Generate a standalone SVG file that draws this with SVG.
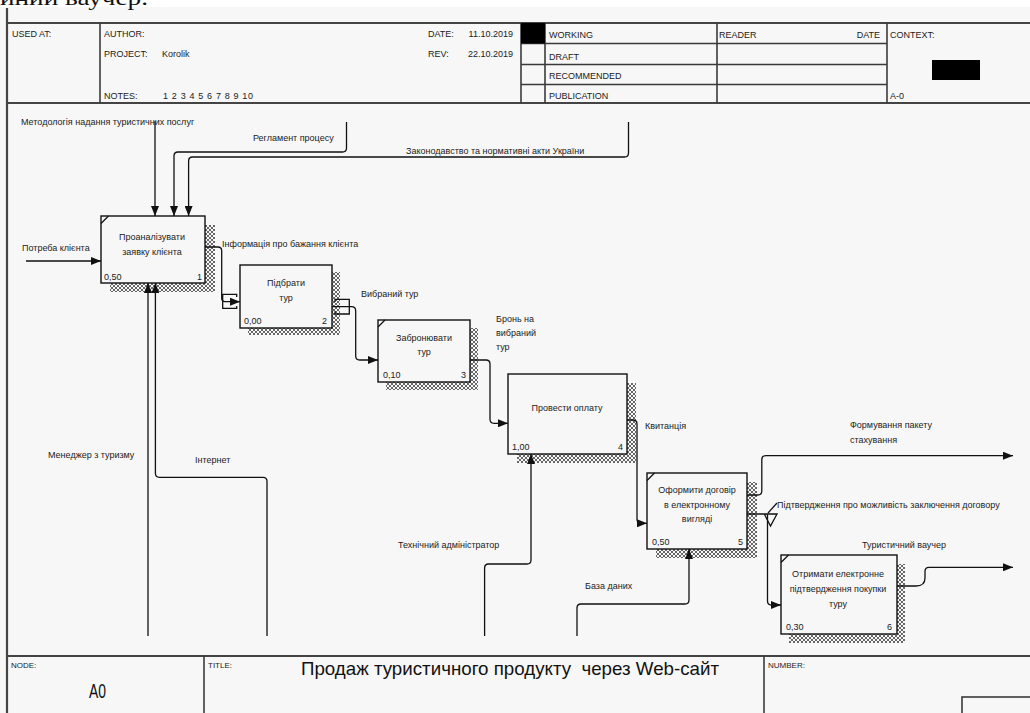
<svg xmlns="http://www.w3.org/2000/svg" width="1030" height="713" viewBox="0 0 1030 713">
<style>
text{font-family:"Liberation Sans",Arial,sans-serif;font-size:9px;fill:#222}
.hd{fill:none;stroke:#3a3a3a;stroke-width:1.6}
.frame{fill:none;stroke:#444;stroke-width:2.2}
.box{fill:#f7f7f7;stroke:#111;stroke-width:1.4}
.sh{fill:url(#hatch)}
.cn{fill:none;stroke:#111;stroke-width:1.3}
.ar{marker-end:url(#arr)}
.mid{text-anchor:middle}
.end{text-anchor:end}
</style>
<defs>
<pattern id="hatch" width="4" height="4" patternUnits="userSpaceOnUse">
<rect width="4" height="4" fill="#f7f7f7"/>
<path d="M0,0 L4,4 M4,0 L0,4" stroke="#444" stroke-width="0.8"/>
</pattern>
<marker id="arr" markerWidth="10" markerHeight="8" refX="10" refY="4" orient="auto" markerUnits="userSpaceOnUse">
<path d="M0,0 L10,4 L0,8 Z" fill="#111"/>
</marker>
</defs>

<rect width="1030" height="713" fill="#fff"/>
<rect x="0" y="7" width="1030" height="706" fill="#f7f7f7"/>
<text x="0" y="5" style="font-family:'Liberation Serif','Times New Roman',serif;font-size:21px;fill:#111" textLength="148" lengthAdjust="spacingAndGlyphs">иний ваучер.</text>

<g id="frame">
<line class="frame" x1="7" y1="8" x2="7" y2="713"/>
<line class="frame" x1="7" y1="23" x2="1030" y2="23"/>
<line class="frame" x1="7" y1="103" x2="1030" y2="103"/>
<line class="frame" x1="7" y1="656" x2="1030" y2="656"/>
<line class="hd" x1="100" y1="23" x2="100" y2="103"/>
<line class="hd" x1="521" y1="23" x2="521" y2="103"/>
<line class="hd" x1="545" y1="23" x2="545" y2="103"/>
<line class="hd" x1="717" y1="23" x2="717" y2="103"/>
<line class="hd" x1="887" y1="23" x2="887" y2="103"/>
<line class="hd" x1="521" y1="43.5" x2="887" y2="43.5"/>
<line class="hd" x1="521" y1="64.5" x2="887" y2="64.5"/>
<line class="hd" x1="521" y1="84.5" x2="887" y2="84.5"/>
<rect x="521" y="23" width="24" height="20.5" fill="#000"/>
<rect x="932" y="60" width="48" height="20" fill="#000"/>
<line class="hd" x1="204" y1="656" x2="204" y2="713"/>
<line class="hd" x1="764" y1="656" x2="764" y2="713"/>
<rect class="hd" x="962" y="697" width="80" height="30"/>
<text x="12" y="37">USED AT:</text>
<text x="104" y="37">AUTHOR:</text>
<text x="104" y="57">PROJECT:</text>
<text x="162" y="57">Korolik</text>
<text x="104" y="99">NOTES:</text>
<text x="163" y="99" textLength="90">1 2 3 4 5 6 7 8 9 10</text>
<text x="428" y="37">DATE:</text>
<text x="513" y="37" class="end">11.10.2019</text>
<text x="428" y="57">REV:</text>
<text x="513" y="57" class="end">22.10.2019</text>
<text x="549" y="37.5">WORKING</text>
<text x="549" y="59.5">DRAFT</text>
<text x="549" y="78.5">RECOMMENDED</text>
<text x="549" y="99">PUBLICATION</text>
<text x="719" y="37.5">READER</text>
<text x="880" y="37.5" class="end">DATE</text>
<text x="890" y="37.5">CONTEXT:</text>
<text x="890" y="99">A-0</text>
<text x="11" y="668" style="font-size:8px">NODE:</text>
<text x="208" y="668" style="font-size:8px">TITLE:</text>
<text x="768" y="668" style="font-size:8px">NUMBER:</text>
<text x="89" y="698" style="font-size:20px;fill:#111" textLength="17" lengthAdjust="spacingAndGlyphs">A0</text>
<text x="301" y="675" style="font-size:18.5px;fill:#111" textLength="418" lengthAdjust="spacingAndGlyphs">Продаж туристичного продукту&#160; через Web-сайт</text>
</g>

<g id="node1">
<rect class="sh" x="110" y="225" width="105" height="67"/>
<rect class="box" x="101" y="216" width="104" height="67"/>
<line class="cn" x1="101" y1="223.5" x2="108.5" y2="216"/>
<text x="152" y="240" class="mid">Проаналізувати</text>
<text x="152" y="255" class="mid">заявку клієнта</text>
<text x="104" y="280">0,50</text>
<text x="202" y="280" class="end">1</text>
</g>
<g id="node2">
<rect class="sh" x="248" y="272" width="92" height="63"/>
<rect class="box" x="240" y="265" width="92" height="63"/>
<text x="286" y="286" class="mid">Підбрати</text>
<text x="286" y="301" class="mid">тур</text>
<text x="244" y="324">0,00</text>
<text x="327" y="324" class="end">2</text>
</g>
<g id="node3">
<rect class="sh" x="386" y="328" width="92" height="62"/>
<rect class="box" x="378" y="320" width="92" height="62"/>
<line class="cn" x1="378" y1="327" x2="385" y2="320"/>
<text x="424" y="341" class="mid">Забронювати</text>
<text x="424" y="355" class="mid">тур</text>
<text x="383" y="378">0,10</text>
<text x="466" y="378" class="end">3</text>
</g>
<g id="node4">
<rect class="sh" x="517" y="383" width="119" height="80"/>
<rect class="box" x="508" y="374" width="119" height="80"/>
<text x="567" y="411" class="mid">Провести оплату</text>
<text x="512" y="450">1,00</text>
<text x="623" y="450" class="end">4</text>
</g>
<g id="node5">
<rect class="sh" x="656" y="482" width="101" height="76"/>
<rect class="box" x="647" y="473" width="100" height="76"/>
<line class="cn" x1="647" y1="480.5" x2="654.5" y2="473"/>
<text x="697" y="493" class="mid">Оформити договір</text>
<text x="697" y="508" class="mid">в електронному</text>
<text x="697" y="522" class="mid">вигляді</text>
<text x="652" y="545">0,50</text>
<text x="743" y="545" class="end">5</text>
</g>
<g id="node6">
<rect class="sh" x="789" y="564" width="116" height="79"/>
<rect class="box" x="781" y="555" width="116" height="79"/>
<line class="cn" x1="781" y1="562.5" x2="788.5" y2="555"/>
<text x="838" y="577" class="mid">Отримати електронне</text>
<text x="838" y="592" class="mid">підтвердження покупки</text>
<text x="838" y="607" class="mid">туру</text>
<text x="786" y="630">0,30</text>
<text x="892" y="630" class="end">6</text>
</g>

<g id="connectors">
<path class="cn ar" d="M155,121 V216"/>
<path class="cn ar" d="M346.5,122 V148 Q346.5,152 342.5,152 H178 Q174,152 174,156 V216"/>
<path class="cn ar" d="M628.5,122 V153 Q628.5,157 624.5,157 H192.6 Q188.6,157 188.6,161 V216"/>
<path class="cn ar" d="M26,261 H101"/>
<path class="cn ar" d="M205,247 H218 Q221.7,247 221.7,251 V298 Q221.7,301.7 225,301.7 H240"/>
<path class="cn" d="M236.7,297 V294.3 H222.7 V308.3 H236.7 V306"/>
<path class="cn ar" d="M332,306.7 H351.5 Q355.7,306.7 355.7,311 V356 Q355.7,360 359.7,360 H378"/>
<path class="cn" d="M335,302 V299.3 H349.3 V314 H335 V311.3"/>
<path class="cn ar" d="M470,360 H486 Q490,360 490,364 V419.3 Q490,423.3 494,423.3 H508"/>
<path class="cn ar" d="M627,420 H633 Q637,420 637,424 V519.3 Q637,523.3 641,523.3 H647"/>
<path class="cn ar" d="M747,495 H757.8 Q761.8,495 761.8,491 V459.7 Q761.8,455.7 765.8,455.7 H1013"/>
<path class="cn" d="M747,514 H777 L770.5,526 L764.3,514"/>
<path class="cn" d="M768,513 L777,503"/>
<path class="cn ar" d="M767.5,514 V601 Q767.5,605 771.5,605 H781"/>
<path class="cn ar" d="M897,586 H916 Q925,586 925,578 V571.3 Q925,567.3 929,567.3 H1013"/>
<path class="cn ar" d="M148,636 V283"/>
<path class="cn ar" d="M267,636 V481.3 Q267,477.3 263,477.3 H159.4 Q155.4,477.3 155.4,473.3 V283"/>
<path class="cn ar" d="M484.6,636 V568 Q484.6,564 488.6,564 H527 Q531,564 531,560 V454"/>
<path class="cn ar" d="M577,636 V608 Q577,604 581,604 H685 Q689,604 689,600 V549"/>
<text x="21" y="125">Методологія надання туристичних послуг</text>
<text x="253" y="141">Регламент процесу</text>
<text x="406" y="154">Законодавство та нормативні акти України</text>
<text x="22" y="251">Потреба клієнта</text>
<text x="222" y="247">Інформація про бажання клієнта</text>
<text x="361" y="297">Вибраний тур</text>
<text x="496" y="322">Бронь на</text>
<text x="496" y="336">вибраний</text>
<text x="496" y="350">тур</text>
<text x="645" y="429">Квитанція</text>
<text x="850" y="428">Формування пакету</text>
<text x="850" y="443">стахування</text>
<text x="777" y="508">Підтвердження про можливість заключення договору</text>
<text x="862" y="548">Туристичний ваучер</text>
<text x="48" y="458">Менеджер з туризму</text>
<text x="195" y="463">Інтернет</text>
<text x="398" y="548">Технічний адміністратор</text>
<text x="585" y="589">База даних</text>
</g>
</svg>
